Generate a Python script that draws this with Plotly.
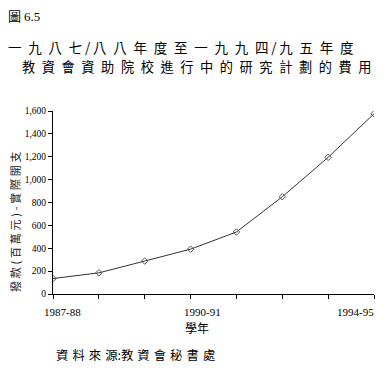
import plotly.graph_objects as go

years = ["1987-88", "1988-89", "1989-90", "1990-91", "1991-92", "1992-93", "1993-94", "1994-95"]
spending = [135, 185, 288, 392, 542, 850, 1195, 1576]
tick_labels = ["1987-88", "", "", "1990-91", "", "", "", "1994-95"]
y_ticks = [0, 200, 400, 600, 800, 1000, 1200, 1400, 1600]

W, H = 390, 373
L, R, T, B = 53, 16, 111, 79
pw, ph = W - L - R, H - T - B

def px(x):
    return (x - L) / pw

def py(y):
    return (H - B - y) / ph

SERIF = "Liberation Serif"
CJK = "Noto Sans CJK TC"

fig = go.Figure()
fig.add_trace(go.Scatter(
    x=list(range(len(years))), y=spending, mode="lines+markers",
    line=dict(color="#333333", width=1),
    marker=dict(symbol="diamond-open", size=5, color="#555555", line=dict(width=1)),
    hoverinfo="skip", showlegend=False,
))

def spaced(s, gap):
    out = gap.join(s)
    return out.replace(gap + "/" + gap, "\u2009/\u2009").replace(gap + ":" + gap, ":")

line1 = spaced("一九八七/八八年度至一九九四/九五年度", "\u2002")
line2 = spaced("教資會資助院校進行中的研究計劃的費用", "\u2002")

annos = [
    dict(text="圖 <span style='font-family:Liberation Serif'>6.5</span>", x=px(6), y=py(15),
         xanchor="left", yanchor="middle",
         font=dict(family=CJK, size=13, color="black")),
    dict(text=line1, x=px(6), y=py(47), xanchor="left", yanchor="middle",
         font=dict(family=CJK, size=13.5, color="black")),
    dict(text=line2, x=px(20), y=py(66), xanchor="left", yanchor="middle",
         font=dict(family=CJK, size=13.2, color="black")),
    dict(text=spaced("撥款(百萬元)-實際開支", "\u2005"), x=px(15), y=py(222), xanchor="center", yanchor="middle",
         textangle=-90, font=dict(family=CJK, size=11, color="#222222")),
    dict(text="學年", x=px(197), y=py(327), xanchor="center", yanchor="middle",
         font=dict(family=CJK, size=12, color="black")),
    dict(text=spaced("資料來源:教資會秘書處", "\u2004"), x=px(54), y=py(355),
         xanchor="left", yanchor="middle",
         font=dict(family=CJK, size=12.3, color="black")),
]
for a in annos:
    a.update(xref="paper", yref="paper", showarrow=False)

# x tick labels placed on the x axis scale
label_shift = {0: ("left", -11), 3: ("left", -9), 7: ("right", 2)}
for i, lab in enumerate(tick_labels):
    if lab:
        anchor, shift = label_shift[i]
        annos.append(dict(text=lab, x=i, xref="x", y=py(312), yref="paper",
                          xanchor=anchor, yanchor="middle", xshift=shift, showarrow=False,
                          font=dict(family=SERIF, size=11, color="black")))

fig.update_layout(
    width=W, height=H, margin=dict(l=L, r=R, t=T, b=B),
    paper_bgcolor="white", plot_bgcolor="white",
    annotations=annos,
    xaxis=dict(range=[0, 7], tickvals=list(range(8)), showticklabels=False,
               showgrid=False, zeroline=False, showline=True, linecolor="black", linewidth=1,
               ticks="outside", ticklen=4, tickcolor="black"),
    yaxis=dict(range=[0, 1600], tickvals=y_ticks, tickformat=",",
               showgrid=False, zeroline=False, showline=True, linecolor="black", linewidth=1,
               ticks="outside", ticklen=4, tickcolor="black",
               tickfont=dict(family=SERIF, size=9.5, color="black")),
)

fig.write_html("out.html", config={"displayModeBar": False},
               post_script="document.body.style.margin='0';")
